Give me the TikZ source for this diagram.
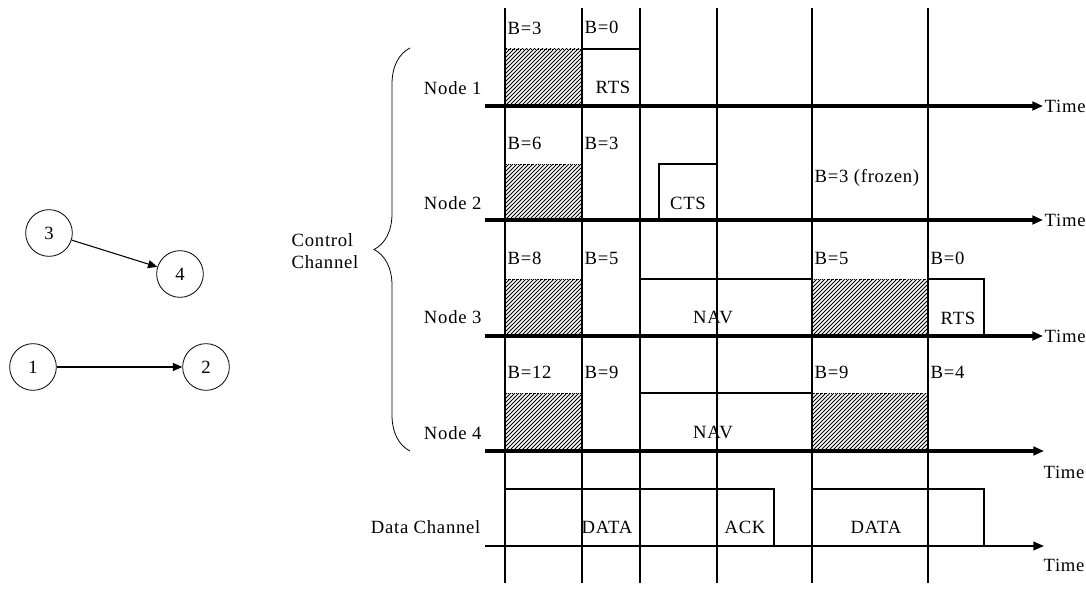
\documentclass[tikz,border=0pt]{standalone}
\usepackage{fontspec}
\setmainfont{Liberation Serif}[LetterSpace=4]
\usetikzlibrary{arrows.meta,decorations.pathreplacing}

% backoff period: dotted frame filled with diagonal hatching
\newcommand{\backoffBox}[4]{%
  \begin{scope}
    \clip (#1,#2) rectangle (#3,#4);
    \foreach \k in {0,...,45}
      \draw[hatchLine] (#1+4*\k-60,#4) -- (#1+4*\k,#4-60);
  \end{scope}
  \draw[densely dotted,line width=0.6pt] (#1,#2) rectangle (#3,#4);
}

\begin{document}
\begin{tikzpicture}[x=0.75pt,y=-0.75pt,
font=\fontsize{14}{17}\selectfont,
slotLine/.style={line width=2.2pt},
timeAxis/.style={line width=2.4pt,-{Triangle[length=8pt,width=6.5pt]}},
dataAxis/.style={line width=1.5pt,-{Triangle[length=8pt,width=6.5pt]}},
frame/.style={draw,line width=0.8pt},
hatchLine/.style={line width=0.6pt},
lbl/.style={inner sep=1pt},
bVal/.style={anchor=west,inner sep=1pt},
station/.style={shape=circle,draw,semithick,minimum size=35pt,inner sep=0},
link/.style={-{Triangle[length=7pt,width=6pt]},line width=0.8pt}
]
\useasboundingbox (0,0) rectangle (1086,592);
% topology
\node[station] (s3) at (49,233) {3};
\node[station] (s4) at (180,274) {4};
\node[station] (s1) at (33,367) {1};
\node[station] (s2) at (206,367) {2};
\draw[link] (s3) -- (s4);
\draw[link] (s1) -- (s2);
% frames on the control channel
\backoffBox{505}{49}{582}{106}
\draw[frame] (582,49) rectangle (640,106);
\backoffBox{505}{164}{582}{220}
\draw[frame] (659,164) rectangle (717,220);
\draw[frame] (640,279) rectangle (812,336);
\draw[frame] (928,279) rectangle (984,336);
\backoffBox{505}{279}{582}{336}
\backoffBox{812}{279}{928}{336}
\draw[frame] (640,393) rectangle (812,451);
\backoffBox{505}{393}{582}{451}
\backoffBox{812}{393}{928}{451}
% frames on the data channel
\draw[frame] (505,489) rectangle (774,546);
\draw[frame] (812,489) rectangle (984,546);
% slot boundaries
\foreach \t in {505,582,640,717,812,928}
  \draw[slotLine] (\t,8) -- (\t,583);
% time axes
\node[anchor=west,inner sep=1pt] (time1) at (1043,106) {Time};
\node[anchor=west,inner sep=1pt] (time2) at (1043,220) {Time};
\node[anchor=west,inner sep=1pt] (time3) at (1043,336) {Time};
\node[lbl] (time4) at (1064,472) {Time};
\node[lbl] (time5) at (1064,565) {Time};
\coordinate (a1) at (485,106);
\coordinate (a2) at (485,220);
\coordinate (a3) at (485,336);
\coordinate (a4) at (485,451);
\coordinate (a5) at (485,546);
\draw[timeAxis] (a1) -- (time1.west);
\draw[timeAxis] (a2) -- (time2.west);
\draw[timeAxis] (a3) -- (time3.west);
\draw[timeAxis] (a4) -- (1044,451);
\draw[dataAxis] (a5) -- (1044,546);
% row labels
\node[anchor=east,lbl] (row1) at (483,88) {Node 1};
\node[anchor=east,lbl] (row2) at (483,203) {Node 2};
\node[anchor=east,lbl] (row3) at (483,317) {Node 3};
\node[anchor=east,lbl] (row4) at (483,433) {Node 4};
\node[anchor=east,lbl] (row5) at (482,527) {Data Channel};
\node[align=left,lbl] (ctrl) at (325,251) {Control\\Channel};
\draw[semithick,decorate,decoration={brace,amplitude=27pt,aspect=0.5}]
  (410,451) -- (410,48);
% backoff counters
\node[bVal] (b11) at (506,28) {B=3};
\node[bVal] (b12) at (583,27) {B=0};
\node[bVal] (b21) at (506,143) {B=6};
\node[bVal] (b22) at (583,143) {B=3};
\node[bVal] (b23) at (813,178) {B=3 (frozen)};
\node[bVal] (b31) at (506,258) {B=8};
\node[bVal] (b32) at (583,258) {B=5};
\node[bVal] (b33) at (813,258) {B=5};
\node[bVal] (b34) at (929,258) {B=0};
\node[bVal] (b41) at (506,372) {B=12};
\node[bVal] (b42) at (583,372) {B=9};
\node[bVal] (b43) at (813,372) {B=9};
\node[bVal] (b44) at (929,372) {B=4};
% frame names
\node[lbl] (rts1) at (613,87) {RTS};
\node[lbl] (cts2) at (688,203) {CTS};
\node[lbl] (nav3) at (713,317) {NAV};
\node[lbl] (rts3) at (958,318) {RTS};
\node[lbl] (nav4) at (713,432) {NAV};
\node[lbl] (data1) at (607,527) {DATA};
\node[lbl] (ack1) at (745,527) {ACK};
\node[lbl] (data2) at (876,527) {DATA};
\end{tikzpicture}
\end{document}
